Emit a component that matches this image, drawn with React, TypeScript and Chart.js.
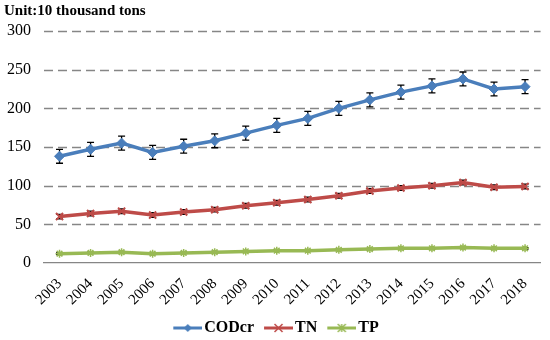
import React, { useEffect, useRef } from "react";
import { Chart, registerables } from "chart.js";

Chart.register(...registerables);

const years = ["2003", "2004", "2005", "2006", "2007", "2008", "2009", "2010", "2011", "2012", "2013", "2014", "2015", "2016", "2017", "2018"];
const codcr = [138, 147, 155, 143, 151, 158, 168, 178, 187, 200, 211, 221, 229, 238, 225, 228];
const tn = [60, 64, 67, 62, 66, 69, 74, 78, 82, 87, 93, 97, 100, 104, 98, 99];
const tp = [12, 13, 14, 12, 13, 14, 15, 16, 16, 17, 18, 19, 19, 20, 19, 19];
const codErr = [9, 9, 9, 9, 9, 9, 9, 9, 9, 9, 9, 9, 9, 9, 9, 9];
const tnErr = [3, 3, 3, 3, 3, 3, 3, 3, 3, 3, 3, 3, 3, 3, 3, 3];
const tpErr = [1, 1, 1, 1, 1, 1, 1, 1, 1, 1, 1, 1, 1, 1, 1, 1];
const seriesNames = ["CODcr", "TN", "TP"];
const yTicks = [0, 50, 100, 150, 200, 250, 300];

const BLUE = "#4a7ebb";
const RED = "#be4b48";
const GREEN = "#98b954";
const GRID = "#868686";
const FONT = "'Liberation Serif', 'Times New Roman', serif";

function drawMarker(ctx: CanvasRenderingContext2D, style: string, x: number, y: number, r: number, color: string) {
  ctx.save();
  ctx.fillStyle = color;
  ctx.strokeStyle = color;
  ctx.lineWidth = 1.5;
  ctx.beginPath();
  if (style === "diamond") {
    ctx.moveTo(x, y - r);
    ctx.lineTo(x + r, y);
    ctx.lineTo(x, y + r);
    ctx.lineTo(x - r, y);
    ctx.closePath();
    ctx.fill();
  } else if (style === "x") {
    ctx.moveTo(x - r, y - r);
    ctx.lineTo(x + r, y + r);
    ctx.moveTo(x + r, y - r);
    ctx.lineTo(x - r, y + r);
    ctx.stroke();
  } else {
    ctx.moveTo(x - r, y - r);
    ctx.lineTo(x + r, y + r);
    ctx.moveTo(x + r, y - r);
    ctx.lineTo(x - r, y + r);
    ctx.moveTo(x, y - r);
    ctx.lineTo(x, y + r);
    ctx.stroke();
  }
  ctx.restore();
}

// icon canvas: 8px transparent on the left, then a 29px line with a marker
function makeIcon(color: string, style: string): HTMLCanvasElement {
  const c = document.createElement("canvas");
  c.width = 37;
  c.height = 14;
  const ctx = c.getContext("2d")!;
  ctx.strokeStyle = color;
  ctx.lineWidth = 3;
  ctx.beginPath();
  ctx.moveTo(8, 7);
  ctx.lineTo(37, 7);
  ctx.stroke();
  drawMarker(ctx, style, 22.5, 7, 4, color);
  return c;
}

const gridAndErrors = {
  id: "gridAndErrors",
  beforeDatasetsDraw(chart: any) {
    const ctx = chart.ctx;
    const yScale = chart.scales.y;
    const area = chart.chartArea;
    ctx.save();
    ctx.strokeStyle = GRID;
    ctx.lineWidth = 1.3;
    ctx.setLineDash([9, 5]);
    yTicks.forEach((v) => {
      if (v === 0) return;
      const y = Math.round(yScale.getPixelForValue(v)) + 0.5;
      ctx.beginPath();
      ctx.moveTo(area.left, y);
      ctx.lineTo(area.right, y);
      ctx.stroke();
    });
    ctx.restore();

    const errs = [codErr, tnErr, tpErr];
    chart.data.datasets.forEach((ds: any, di: number) => {
      const meta = chart.getDatasetMeta(di);
      ctx.save();
      ctx.strokeStyle = "#000";
      ctx.lineWidth = 1.3;
      meta.data.forEach((pt: any, i: number) => {
        const v = ds.data[i];
        const e = errs[di][i];
        const y1 = yScale.getPixelForValue(v + e);
        const y2 = yScale.getPixelForValue(v - e);
        const x = pt.x;
        ctx.beginPath();
        ctx.moveTo(x, y1);
        ctx.lineTo(x, y2);
        ctx.moveTo(x - 3.5, y1);
        ctx.lineTo(x + 3.5, y1);
        ctx.moveTo(x - 3.5, y2);
        ctx.lineTo(x + 3.5, y2);
        ctx.stroke();
      });
      ctx.restore();
    });
  },
};

export default function App() {
  const ref = useRef<HTMLCanvasElement>(null);
  useEffect(() => {
    document.body.style.margin = "0";
    const icons = [makeIcon(BLUE, "diamond"), makeIcon(RED, "x"), makeIcon(GREEN, "star")];
    const chart = new Chart(ref.current!, {
      type: "line",
      data: {
        labels: years,
        datasets: [
          {
            label: seriesNames[0],
            data: codcr,
            borderColor: BLUE,
            backgroundColor: BLUE,
            borderWidth: 3.5,
            pointStyle: "rectRot",
            pointRadius: 5,
            pointBorderWidth: 1,
          },
          {
            label: seriesNames[1],
            data: tn,
            borderColor: RED,
            backgroundColor: RED,
            borderWidth: 3.5,
            pointStyle: "crossRot",
            pointRadius: 5,
            pointBorderWidth: 2,
          },
          {
            label: seriesNames[2],
            data: tp,
            borderColor: GREEN,
            backgroundColor: GREEN,
            borderWidth: 3.5,
            pointStyle: "star",
            pointRadius: 4,
            pointBorderWidth: 1.5,
          },
        ],
      },
      options: {
        animation: false,
        responsive: false,
        maintainAspectRatio: false,
        layout: { padding: { left: 4, right: 4, top: 0, bottom: -6 } },
        plugins: {
          title: {
            display: true,
            text: "Unit:10 thousand tons",
            align: "start",
            color: "#000",
            font: { family: FONT, size: 15, weight: "bold" },
            padding: { top: 2, bottom: 11 },
          },
          legend: {
            position: "bottom",
            labels: {
              usePointStyle: true,
              pointStyleWidth: 25,
              padding: 8,
              color: "#000",
              font: { family: FONT, size: 16, weight: "bold" },
              generateLabels: (chart: any) =>
                chart.data.datasets.map((ds: any, i: number) => ({
                  text: ds.label,
                  pointStyle: icons[i],
                  fillStyle: ds.borderColor,
                  strokeStyle: ds.borderColor,
                  lineWidth: 0,
                  hidden: false,
                  datasetIndex: i,
                  fontColor: "#000",
                })),
            },
          },
          tooltip: { enabled: false },
        },
        scales: {
          x: {
            offset: true,
            grid: { display: false, drawTicks: false },
            border: { display: true, color: GRID, width: 1.3 },
            ticks: {
              color: "#000",
              font: { family: FONT, size: 15 },
              minRotation: 45,
              maxRotation: 45,
              padding: 12,
              autoSkip: false,
            },
            afterFit: (s: any) => {
              s.height = 49;
            },
          },
          y: {
            min: 0,
            max: 300,
            afterBuildTicks: (s: any) => {
              s.ticks = yTicks.map((v) => ({ value: v }));
            },
            grid: { display: false, drawTicks: false },
            border: { display: false },
            ticks: {
              color: "#000",
              font: { family: FONT, size: 16 },
              padding: 13,
            },
            afterFit: (s: any) => {
              s.width = 40;
            },
          },
        },
      },
      plugins: [gridAndErrors],
    });
    return () => chart.destroy();
  }, []);
  return (
    <div style={{ width: 550, height: 340 }}>
      <canvas ref={ref} width={550} height={340} style={{ display: "block" }} />
    </div>
  );
}
